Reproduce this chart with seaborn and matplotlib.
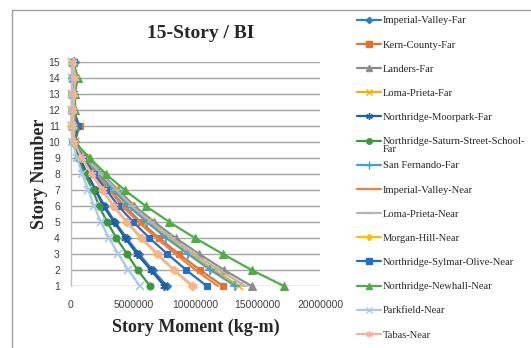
import matplotlib
matplotlib.use("Agg")
import matplotlib.pyplot as plt
import matplotlib.lines as mlines
import numpy as np
import pandas as pd
import seaborn as sns

stories = list(range(1, 16))

# story moments in millions of kg-m, story 1 .. 15
imperial_valley_far = [7.7, 6.55, 5.47, 4.47, 3.54, 2.7, 2.0, 1.31, 0.69, 0.19, 0.25, 0.2, 0.25, 0.2, 0.3]
kern_county_far = [12.2, 10.37, 8.66, 7.08, 5.61, 4.27, 3.17, 2.07, 1.1, 0.3, 0.7, 0.2, 0.2, 0.2, 0.2]
landers_far = [14.5, 12.3, 10.3, 8.4, 6.7, 5.1, 3.8, 2.5, 1.3, 0.36, 0.2, 0.15, 0.15, 0.2, 0.15]
loma_prieta_far = [13.5, 11.5, 9.6, 7.8, 6.2, 4.7, 3.5, 2.3, 1.2, 0.34, 0.1, 0.1, 0.1, 0.15, 0.1]
moorpark_far = [7.5, 6.4, 5.3, 4.35, 3.45, 2.6, 1.95, 1.3, 0.68, 0.19, 0.15, 0.12, 0.12, 0.15, 0.15]
saturn_far = [6.35, 5.35, 4.5, 3.65, 2.9, 2.25, 1.75, 1.1, 0.55, 0.15, 0.1, 0.1, 0.1, 0.1, 0.1]
san_fernando_far = [13.2, 11.2, 9.4, 7.65, 6.1, 4.6, 3.4, 2.25, 1.2, 0.33, 0.2, 0.15, 0.15, 0.2, 0.25]
imperial_valley_near = [11.8, 10.0, 8.4, 6.85, 5.4, 4.1, 3.1, 2.0, 1.06, 0.3, 0.25, 0.2, 0.2, 0.25, 0.2]
loma_prieta_near = [14.0, 11.9, 9.9, 8.1, 6.45, 4.9, 3.65, 2.4, 1.26, 0.35, 0.15, 0.1, 0.1, 0.15, 0.1]
morgan_hill_near = [9.7, 8.25, 6.9, 5.6, 4.45, 3.4, 2.5, 1.65, 0.87, 0.24, 0.0, 0.1, 0.1, 0.15, 0.1]
sylmar_near = [10.9, 9.25, 7.75, 6.3, 5.0, 3.8, 2.85, 1.85, 0.98, 0.27, 0.6, 0.2, 0.25, 0.2, 0.25]
newhall_near = [17.1, 14.5, 12.2, 9.95, 7.9, 6.0, 4.3, 2.8, 1.5, 0.3, 0.3, 0.35, 0.3, 0.55, 0.2]
parkfield_near = [5.54, 4.6, 3.8, 3.05, 2.4, 1.85, 1.4, 0.9, 0.48, 0.12, 0.05, 0.05, 0.05, 0.1, 0.05]
tabas_near = [9.8, 8.3, 6.95, 5.7, 4.5, 3.45, 2.55, 1.67, 0.88, 0.25, 0.2, 0.2, 0.25, 0.3, 0.2]

names = ['Imperial-Valley-Far', 'Kern-County-Far', 'Landers-Far', 'Loma-Prieta-Far',
         'Northridge-Moorpark-Far', 'Northridge-Saturn-Street-School-Far', 'San Fernando-Far',
         'Imperial-Valley-Near', 'Loma-Prieta-Near', 'Morgan-Hill-Near',
         'Northridge-Sylmar-Olive-Near', 'Northridge-Newhall-Near', 'Parkfield-Near', 'Tabas-Near']
series = [imperial_valley_far, kern_county_far, landers_far, loma_prieta_far, moorpark_far,
          saturn_far, san_fernando_far, imperial_valley_near, loma_prieta_near, morgan_hill_near,
          sylmar_near, newhall_near, parkfield_near, tabas_near]

colors = ['#2C7FC0', '#E8702A', '#8C8C8C', '#F5B000', '#1F5FA8', '#3A9A3A', '#3BA3DC',
          '#F07F3C', '#B4B4B4', '#FFC000', '#1F6FCF', '#4CAF45', '#A8C8EC', '#F8B09A']
star = (6, 2, 0)
markers = ['D', 's', '^', 'x', star, 'o', '+', None, '_', 'D', 's', '^', 'x', star]
msizes = [4, 5, 5.5, 6, 6, 5, 7, 0, 6, 4, 5, 5.5, 6, 6]

rows = []
for name, vals in zip(names, series):
    for s, v in zip(stories, vals):
        rows.append([name, s, v * 1e6])
df = pd.DataFrame(rows, columns=['series', 'Story Number', 'Story Moment (kg-m)'])

sns.set_style("white")
fig = plt.figure(figsize=(5.31, 3.48), dpi=100)
ax = fig.add_axes([71 / 531, 1 - 286 / 348, 249 / 531, 224 / 348])

for name, c, m, ms in zip(names, colors, markers, msizes):
    sub = df[df['series'] == name]
    kw = dict(marker=m, markersize=ms, markeredgewidth=1.2 if m in ('x', '+', '_', star) else 0.8,
              markeredgecolor=c, markerfacecolor=c) if m is not None else {}
    sns.lineplot(data=sub, x='Story Moment (kg-m)', y='Story Number', orient='y',
                 estimator=None, color=c, linewidth=1.6, ax=ax, label=name,
                 clip_on=False, legend=False, **kw)

ax.set_xlim(0, 20e6)
ax.set_ylim(1, 15)
ax.set_yticks(stories)
ax.set_xticks([0, 5e6, 10e6, 15e6, 20e6])
ax.set_xticklabels(['0', '5000000', '10000000', '15000000', '20000000'])
ax.grid(axis='y', color='#A6A6A6', linewidth=1)
ax.grid(axis='x', visible=False)
ax.set_axisbelow(True)
for sp in ['top', 'right', 'bottom']:
    ax.spines[sp].set_visible(False)
ax.spines['left'].set_color('#BFBFBF')
ax.spines['left'].set_linewidth(1)
ax.tick_params(axis='both', length=0, labelsize=7.5, labelcolor='#404040')
ax.tick_params(axis='y', pad=8)
ax.tick_params(axis='x', pad=10)
for t in ax.get_xticklabels() + ax.get_yticklabels():
    t.set_family('Liberation Sans')

ax.set_xlabel('Story Moment (kg-m)', family='Liberation Serif', fontweight='bold', fontsize=13, labelpad=6)
ax.set_ylabel('Story Number', family='Liberation Serif', fontweight='bold', fontsize=13, labelpad=0)
fig.text(201 / 531, 1 - 33 / 348, '15-Story / BI', family='Liberation Serif', fontweight='bold',
         fontsize=14, ha='center', va='center')

# chart frame
fig.add_artist(mlines.Line2D([12 / 531, 12 / 531], [0, 1 - 10 / 348], color='#A0A0A0', lw=1))
fig.add_artist(mlines.Line2D([12 / 531, 1], [1 - 10 / 348, 1 - 10 / 348], color='#A0A0A0', lw=1))

handles = []
leg_labels = []
for name, c, m, ms in zip(names, colors, markers, msizes):
    h = mlines.Line2D([], [], color=c, lw=1.6, marker=m if m is not None else None,
                      markersize=ms * 0.8, markeredgecolor=c, markerfacecolor=c)
    handles.append(h)
    leg_labels.append('Northridge-Saturn-Street-School-' if 'Saturn' in name else name)

leg = fig.legend(handles, leg_labels, loc='upper left', bbox_to_anchor=(357 / 531, 1 - 16 / 348),
                 frameon=False, borderpad=0, borderaxespad=0, handlelength=2.3,
                 handletextpad=0.15, labelspacing=1.4,
                 prop={'family': 'Liberation Serif', 'size': 7.6})

fig.canvas.draw()
bb = leg.get_texts()[5].get_window_extent()
fig.text(bb.x0 / 531, (bb.y0 + 1) / 348, 'Far', family='Liberation Serif', fontsize=7.6,
         ha='left', va='top')

fig.savefig('out.png', dpi=100)
